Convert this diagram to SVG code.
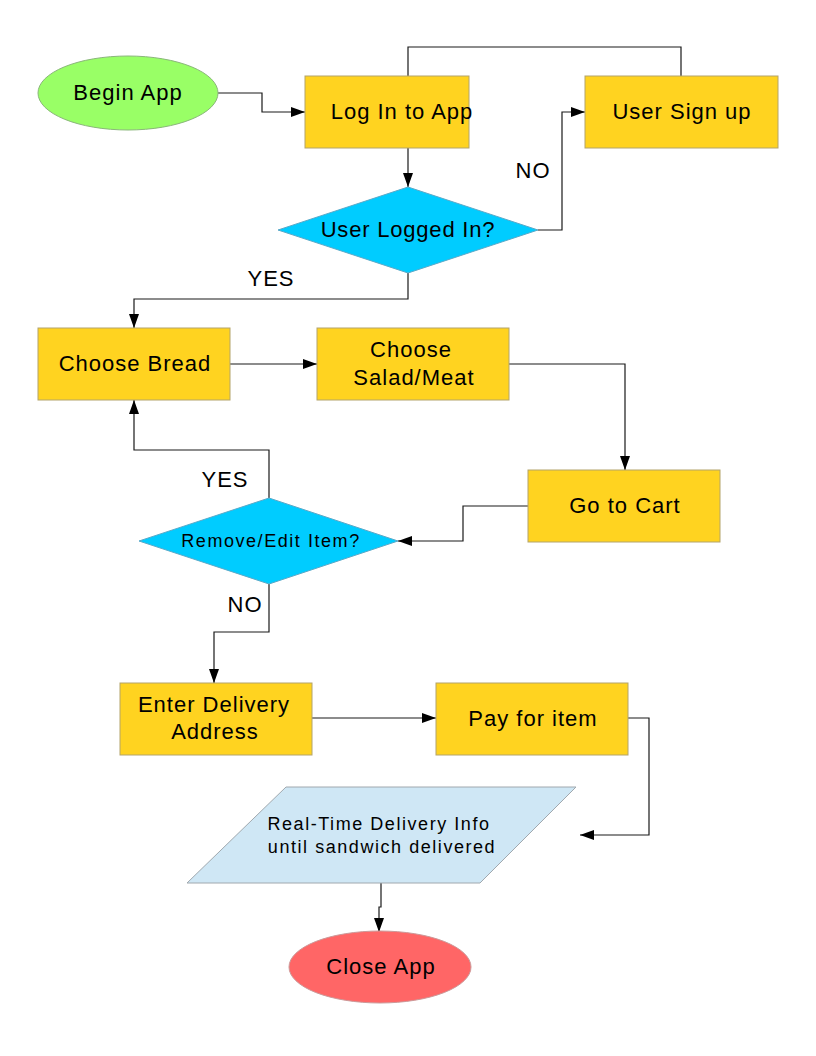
<svg xmlns="http://www.w3.org/2000/svg" width="816" height="1056" viewBox="0 0 816 1056">
<style>
.t{font-family:"Liberation Sans",Arial,sans-serif;font-size:22px;letter-spacing:1px;fill:#000;text-anchor:middle}
.s{font-family:"Liberation Sans",Arial,sans-serif;font-size:18px;letter-spacing:1.55px;fill:#000;text-anchor:middle}
.lbl{font-family:"Liberation Sans",Arial,sans-serif;font-size:22px;letter-spacing:1px;fill:#000;text-anchor:middle}
.box{fill:#FFD320;stroke:#B3A46A;stroke-width:1}
.dia{fill:#00CCFF;stroke:#5AA9C8;stroke-width:1}
.c{fill:none;stroke:#1a1a1a;stroke-width:1.2}
</style>
<defs>
<marker id="ar" markerWidth="14" markerHeight="10" refX="14" refY="5" orient="auto" markerUnits="userSpaceOnUse">
<path d="M0,0 L14,5 L0,10 Z" fill="#000"/>
</marker>
</defs>
<rect width="816" height="1056" fill="#fff"/>
<g id="connectors">
<path class="c" d="M218,93 H262 V112 H305" marker-end="url(#ar)"/>
<path class="c" d="M408,76 V47 H681 V76"/>
<path class="c" d="M408,148 V187" marker-end="url(#ar)"/>
<path class="c" d="M538,230 H562 V112 H585" marker-end="url(#ar)"/>
<path class="c" d="M408,273 V299 H134 V328" marker-end="url(#ar)"/>
<path class="c" d="M230,364 H317" marker-end="url(#ar)"/>
<path class="c" d="M509,364 H625 V470" marker-end="url(#ar)"/>
<path class="c" d="M528,506 H463 V541 H398" marker-end="url(#ar)"/>
<path class="c" d="M269,498 V450 H134 V400" marker-end="url(#ar)"/>
<path class="c" d="M269,584 V632 H214 V683" marker-end="url(#ar)"/>
<path class="c" d="M312,718 H436" marker-end="url(#ar)"/>
<path class="c" d="M628,718 H649 V835 H580" marker-end="url(#ar)"/>
<path class="c" d="M381,883 V907 H379 V932" marker-end="url(#ar)"/>
<text class="lbl" x="533" y="178">NO</text>
<text class="lbl" x="271" y="286">YES</text>
<text class="lbl" x="225" y="487">YES</text>
<text class="lbl" x="245" y="612">NO</text>
</g>
<g id="begin">
<ellipse cx="128" cy="93" rx="90" ry="37" fill="#99FF66" stroke="#8AB67A" stroke-width="1"/>
<text class="t" x="128" y="100">Begin App</text>
</g>
<g id="login">
<rect class="box" x="305" y="76" width="164" height="72"/>
<text class="t" x="402" y="119">Log In to App</text>
</g>
<g id="signup">
<rect class="box" x="585" y="76" width="193" height="72"/>
<text class="t" x="682" y="119">User Sign up</text>
</g>
<g id="logged">
<polygon class="dia" points="408,187 538,230 408,273 278,230"/>
<text class="t" x="408" y="237" style="letter-spacing:0.8px">User Logged In?</text>
</g>
<g id="bread">
<rect class="box" x="38" y="328" width="192" height="72"/>
<text class="t" x="135" y="371">Choose Bread</text>
</g>
<g id="salad">
<rect class="box" x="317" y="328" width="192" height="72"/>
<text class="t" x="411" y="357">Choose</text>
<text class="t" x="414" y="385">Salad/Meat</text>
</g>
<g id="cart">
<rect class="box" x="528" y="470" width="192" height="72"/>
<text class="t" x="625" y="513">Go to Cart</text>
</g>
<g id="edit">
<polygon class="dia" points="269,498 398,541 269,584 139,541"/>
<text class="s" x="271" y="547">Remove/Edit Item?</text>
</g>
<g id="address">
<rect class="box" x="120" y="683" width="192" height="72"/>
<text class="t" x="214" y="712">Enter Delivery</text>
<text class="t" x="215" y="739">Address</text>
</g>
<g id="pay">
<rect class="box" x="436" y="683" width="192" height="72"/>
<text class="t" x="533" y="726">Pay for item</text>
</g>
<g id="delivery">
<polygon points="286,787 576,787 480,883 187,883" fill="#CFE7F5" stroke="#A0A8AE" stroke-width="1"/>
<text class="s" x="379" y="830">Real-Time Delivery Info</text>
<text class="s" x="382" y="853">until sandwich delivered</text>
</g>
<g id="close">
<ellipse cx="380" cy="967" rx="91" ry="36" fill="#FF6666" stroke="#C99" stroke-width="1"/>
<text class="t" x="381" y="974">Close App</text>
</g>
</svg>
